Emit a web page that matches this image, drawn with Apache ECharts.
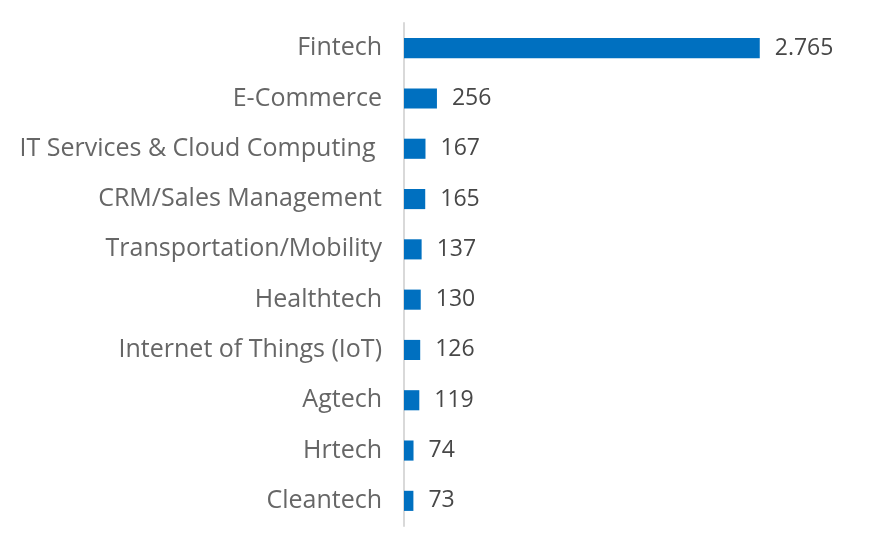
<!DOCTYPE html>
<html>
<head>
<meta charset="utf-8">
<title></title>
<script src="https://cdn.jsdelivr.net/npm/echarts@6/dist/echarts.min.js"></script>
<style>
  html, body { margin: 0; padding: 0; background: #fff; }
  #main { width: 885px; height: 547px; }
</style>
</head>
<body>
<div id="main"></div>
<script>
var categories = ['Fintech', 'E-Commerce', 'IT Services & Cloud Computing ', 'CRM/Sales Management',
  'Transportation/Mobility', 'Healthtech', 'Internet of Things (IoT)', 'Agtech', 'Hrtech', 'Cleantech'];
var values = [2765, 256, 167, 165, 137, 130, 126, 119, 74, 73];

// thousands separator is a dot in the original
function fmt(v) {
  return String(v).replace(/\B(?=(\d{3})+(?!\d))/g, '.');
}

var myChart = echarts.init(document.getElementById('main'));
var option = {
  animation: false,
  grid: { left: 404, width: 386, top: 23, bottom: 21 },
  xAxis: {
    type: 'value',
    min: 0,
    max: 3000,
    show: false
  },
  yAxis: {
    type: 'category',
    inverse: true,
    data: categories,
    axisLine: { lineStyle: { color: '#d9d9d9', width: 2 } },
    axisTick: { show: false },
    axisLabel: {
      color: '#666666',
      fontFamily: 'Open Sans',
      fontSize: 25,
      margin: 22
    }
  },
  series: [{
    type: 'bar',
    data: values,
    barWidth: '40%',
    itemStyle: { color: '#0070c0' },
    label: {
      show: true,
      position: 'right',
      distance: 15,
      color: '#474747',
      fontFamily: 'Open Sans',
      fontSize: 23,
      formatter: function (p) { return fmt(p.value); }
    }
  }]
};
myChart.setOption(option);
</script>
</body>
</html>
